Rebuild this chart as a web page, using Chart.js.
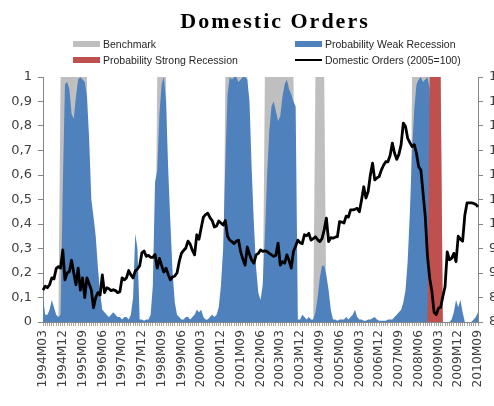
<!DOCTYPE html>
<html lang="en">
<head>
  <meta charset="UTF-8" />
  <title>Domestic Orders</title>
  <script src="https://cdn.jsdelivr.net/npm/chart.js"></script>
  <style>
    html, body {
      margin: 0;
      padding: 0;
      overflow: hidden;
      background: #fff;
    }
    .wrap {
      position: relative;
      width: 515px;
      height: 406px;
    }
    canvas {
      position: absolute;
      left: 0;
      top: 0;
    }
    h1 {
      position: absolute;
      left: 150px;
      width: 250px;
      top: 8px;
      margin: 0;
      text-align: center;
      font: bold 22px "Liberation Serif", serif;
      line-height: 25px;
      letter-spacing: 2px;
      color: #000;
    }
    .item {
      position: absolute;
      display: flex;
      align-items: center;
      height: 12px;
      font: 10.5px "Liberation Sans", sans-serif;
      color: #262626;
      white-space: nowrap;
    }
    .swatch {
      width: 27px;
      height: 6px;
      margin-right: 3px;
    }
    .swatch.line {
      height: 2px;
    }
  </style>
</head>
<body>
  <div class="wrap">
    <canvas id="ordersChart" width="515" height="406"></canvas>
    <h1>Domestic Orders</h1>
    <div class="item" style="left:73px; top:38px;"><span class="swatch" style="background:#BFBFBF"></span>Benchmark</div>
    <div class="item" style="left:295px; top:38px;"><span class="swatch" style="background:#4F81BD"></span>Probability Weak Recession</div>
    <div class="item" style="left:73px; top:54px;"><span class="swatch" style="background:#C0504D"></span>Probability Strong Recession</div>
    <div class="item" style="left:295px; top:54px;"><span class="swatch line" style="background:#000"></span>Domestic Orders (2005=100)</div>
  </div>

  <script>
    // monthly categories, 1994M03 .. 2010M09
    const startYear = 1994;
    const startMonth = 3;
    const monthCount = 199;

    const xTickLabels = ['1994M03', '1994M12', '1995M09', '1996M06', '1997M03', '1997M12', '1998M09',
      '1999M06', '2000M03', '2000M12', '2001M09', '2002M06', '2003M03', '2003M12', '2004M09', '2005M06',
      '2006M03', '2006M12', '2007M09', '2008M06', '2009M03', '2009M12', '2010M09'];
    const leftTickLabels = ['0', '0,1', '0,2', '0,3', '0,4', '0,5', '0,6', '0,7', '0,8', '0,9', '1'];
    const rightTickLabels = ['80', '85', '90', '95', '100', '105', '110', '115', '120', '125', '130'];

    // recession periods (first and last month shaded)
    const benchmarkPeriods = [['1994M11', '1995M11'], ['1998M07', '1998M11'], ['2001M02', '2001M12'],
      ['2002M08', '2003M09'], ['2004M07', '2004M11'], ['2008M03', '2009M04']];
    const strongPeriods = [['2008M11', '2009M04']];

    // probability of a weak recession, one value per month
    const weakProb = [
      0.10, 0.03, 0.03, 0.05, 0.09, 0.06, 0.03, 0.02, 0.03, 0.55,                   // 1994 M03-M12
      0.97, 0.98, 0.95, 0.85, 0.83, 0.92, 0.99, 1.00, 0.99, 0.98, 0.92, 0.75,       // 1995
      0.50, 0.43, 0.35, 0.22, 0.12, 0.05, 0.04, 0.03, 0.02, 0.03, 0.04, 0.03,       // 1996
      0.02, 0.02, 0.01, 0.02, 0.02, 0.01, 0.03, 0.10, 0.36, 0.30, 0.01, 0.01,       // 1997
      0.005, 0.01, 0.01, 0.03, 0.15, 0.57, 0.62, 0.85, 0.97, 1.00, 0.90, 0.62,      // 1998
      0.40, 0.20, 0.08, 0.03, 0.02, 0.01, 0.01, 0.02, 0.02, 0.01, 0.02, 0.03,       // 1999
      0.05, 0.04, 0.05, 0.02, 0.01, 0.01, 0.02, 0.03, 0.02, 0.03, 0.06, 0.15,       // 2000
      0.30, 0.65, 0.93, 1.00, 0.99, 1.00, 1.00, 0.98, 0.99, 1.00, 1.00, 0.99,       // 2001
      0.90, 0.62, 0.40, 0.22, 0.12, 0.09, 0.15, 0.35, 0.60, 0.78, 0.88, 0.90,       // 2002
      0.86, 0.82, 0.84, 0.92, 0.97, 0.99, 0.95, 0.93, 0.90, 0.88, 0.01, 0.01,       // 2003
      0.03, 0.02, 0.01, 0.02, 0.01, 0.01, 0.04, 0.10, 0.18, 0.23, 0.23, 0.19,       // 2004
      0.13, 0.05, 0.01, 0.01, 0.005, 0.01, 0.01, 0.01, 0.02, 0.01, 0.02, 0.03,      // 2005
      0.05, 0.02, 0.01, 0.01, 0.005, 0.005, 0.01, 0.01, 0.015, 0.02, 0.01, 0.005,   // 2006
      0.005, 0.005, 0.005, 0.01, 0.01, 0.01, 0.02, 0.03, 0.04, 0.05, 0.08, 0.13,    // 2007
      0.25, 0.45, 0.70, 0.87, 0.97, 0.99, 1.00, 0.98, 0.99, 1.00, 0.95, 0.60,       // 2008
      0.20, 0.02, 0.00, 0.00, 0.00, 0.00, 0.00, 0.00, 0.01, 0.04, 0.09, 0.06,       // 2009
      0.09, 0.04, 0.00, 0.00, 0.00, 0.00, 0.01, 0.02, 0.04                          // 2010 M01-M09
    ];

    // domestic orders index (2005=100), right axis
    const domesticOrders = [
      86.5, 87.3, 87.0, 87.6, 89.0, 88.8, 90.9, 91.3, 91.0, 94.7,                     // 1994 M03-M12
      88.6, 90.0, 90.3, 92.6, 90.0, 87.6, 91.0, 86.5, 89.0, 85.0, 89.0, 87.8,         // 1995
      86.5, 82.9, 85.0, 86.0, 85.5, 89.6, 86.0, 87.0, 86.8, 86.4, 86.6, 86.4,         // 1996
      86.0, 86.2, 89.0, 88.6, 89.0, 90.5, 89.6, 89.0, 90.4, 90.8, 91.5, 94.1,         // 1997
      94.5, 93.4, 93.6, 93.2, 93.2, 93.8, 91.0, 93.0, 91.5, 90.2, 91.0, 89.7,         // 1998
      88.6, 89.2, 89.4, 90.0, 92.3, 94.0, 94.6, 95.1, 96.5, 95.9, 94.6, 93.7,         // 1999
      97.8, 96.9, 99.2, 101.4, 101.9, 102.2, 101.3, 100.7, 99.4, 99.6, 100.6, 100.2,  // 2000
      99.8, 100.7, 97.5, 96.7, 96.4, 96.0, 96.5, 96.7, 94.3, 92.8, 91.6, 95.3,        // 2001
      93.8, 92.6, 92.0, 93.7, 94.0, 94.7, 94.4, 94.5, 94.4, 94.0, 93.7, 93.4,         // 2002
      93.6, 96.1, 91.6, 92.3, 92.0, 93.7, 92.6, 91.0, 94.4, 95.5, 96.7, 96.2,         // 2003
      96.0, 97.8, 97.6, 98.1, 96.7, 97.0, 97.4, 96.8, 96.4, 97.0, 98.8, 101.2,        // 2004
      96.4, 97.2, 97.1, 97.3, 97.4, 100.5, 100.4, 100.2, 101.6, 101.4, 102.9, 102.9,  // 2005
      103.0, 103.2, 102.5, 104.9, 107.6, 105.3, 106.6, 110.0, 112.4, 109.0, 109.4, 109.7, // 2006
      111.0, 112.0, 112.7, 112.7, 114.0, 116.5, 114.5, 113.2, 114.2, 116.2, 120.6, 119.9, // 2007
      117.5, 116.6, 115.8, 116.2, 114.4, 111.7, 111.0, 106.3, 101.5, 93.5, 89.0, 86.3,    // 2008
      82.0, 81.5, 82.8, 83.0, 85.2, 87.2, 94.3, 92.7, 93.0, 94.0, 92.3, 97.5,         // 2009
      96.9, 96.5, 101.8, 104.3, 104.3, 104.3, 104.2, 104.0, 103.5                     // 2010 M01-M09
    ];

    const months = [];
    for (let k = 0; k < monthCount; k++) {
      const m = startMonth - 1 + k;
      months.push((startYear + Math.floor(m / 12)) + 'M' + String(m % 12 + 1).padStart(2, '0'));
    }

    function periodSeries(periods) {
      return months.map(m => periods.some(([a, b]) => m >= a && m <= b) ? 1 : 0);
    }

    const tickFont = { family: 'DejaVu Sans', size: 13 };
    const axisGray = '#868686';
    const labelGray = '#404040';

    const ctx = document.getElementById('ordersChart').getContext('2d');

    new Chart(ctx, {
      type: 'line',
      data: {
        labels: months,
        datasets: [{
          label: 'Domestic Orders (2005=100)',
          data: domesticOrders,
          yAxisID: 'y1',
          borderColor: '#000',
          borderWidth: 2.8,
          borderJoinStyle: 'round',
          pointRadius: 0,
          fill: false,
          order: 0
        }, {
          label: 'Probability Strong Recession',
          data: periodSeries(strongPeriods),
          yAxisID: 'y',
          borderColor: 'rgba(0,0,0,0)',
          borderWidth: 0,
          backgroundColor: '#C0504D',
          pointRadius: 0,
          fill: 'origin',
          order: 1
        }, {
          label: 'Probability Weak Recession',
          data: weakProb,
          yAxisID: 'y',
          borderColor: 'rgba(0,0,0,0)',
          borderWidth: 0,
          backgroundColor: '#4F81BD',
          pointRadius: 0,
          fill: 'origin',
          order: 2
        }, {
          label: 'Benchmark',
          data: periodSeries(benchmarkPeriods),
          yAxisID: 'y',
          borderColor: 'rgba(0,0,0,0)',
          borderWidth: 0,
          backgroundColor: '#BFBFBF',
          pointRadius: 0,
          fill: 'origin',
          order: 3
        }]
      },
      options: {
        responsive: false,
        animation: false,
        devicePixelRatio: 1,
        layout: { padding: { top: 77, left: 0, right: 0, bottom: 0 } },
        plugins: {
          legend: { display: false },
          title: { display: false },
          tooltip: { enabled: false }
        },
        elements: { line: { tension: 0 } },
        scales: {
          x: {
            type: 'category',
            offset: false,
            border: { display: true, color: axisGray },
            grid: { drawOnChartArea: false, drawTicks: true, tickLength: 4, color: '#A6A6A6' },
            ticks: {
              autoSkip: false,
              minRotation: 90,
              maxRotation: 90,
              padding: 4,
              color: labelGray,
              font: { family: 'DejaVu Sans', size: 12.3 },
              callback: (v, i) => xTickLabels.includes(months[i]) ? months[i] : ''
            },
            afterFit: s => { s.height = 406 - 322; }
          },
          y: {
            position: 'left',
            min: 0,
            max: 1,
            border: { display: true, color: axisGray },
            grid: { drawOnChartArea: false, tickLength: 5, color: axisGray },
            ticks: {
              stepSize: 0.1,
              padding: 6,
              color: labelGray,
              font: tickFont,
              callback: (v, i) => leftTickLabels[i]
            },
            afterFit: s => { s.width = 43; }
          },
          y1: {
            position: 'right',
            min: 80,
            max: 130,
            border: { display: true, color: axisGray },
            grid: { drawOnChartArea: false, tickLength: 5, color: axisGray },
            ticks: {
              stepSize: 5,
              padding: 6,
              color: labelGray,
              font: tickFont,
              callback: (v, i) => rightTickLabels[i]
            },
            afterFit: s => { s.width = 515 - 478; }
          }
        }
      }
    });
  </script>
</body>
</html>
